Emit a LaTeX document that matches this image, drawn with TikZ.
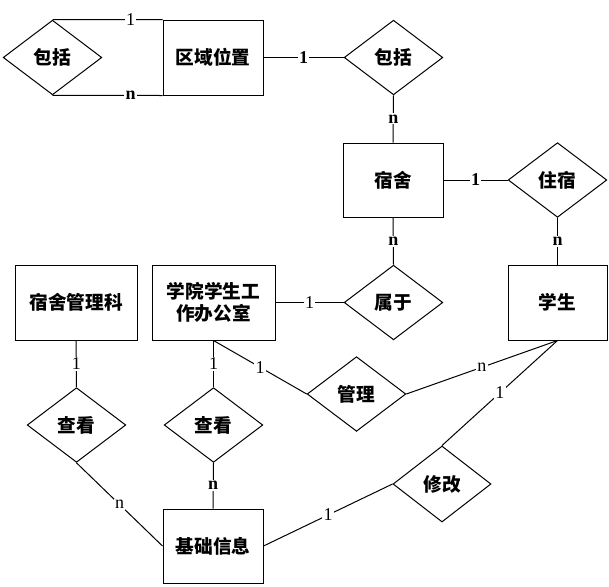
\documentclass[tikz,border=0pt]{standalone}
\usepackage{fontspec}
\setmainfont{Liberation Serif}
\newfontfamily\cjk{Noto Sans CJK SC}
\usetikzlibrary{shapes.geometric}
\begin{document}
\begin{tikzpicture}[x=0.75pt,y=-0.75pt,
  every path/.style={line width=0.75pt},
  ent/.style={draw, rectangle, inner sep=0pt, font=\cjk\bfseries\fontsize{14}{17}\selectfont, align=center},
  rel/.style={draw, diamond, inner sep=0pt, minimum width=74pt, minimum height=56pt, font=\cjk\bfseries\fontsize{14}{17}\selectfont},
  lbl/.style={fill=white, inner sep=1pt, font=\fontsize{13.5}{14}\selectfont},
  blbl/.style={fill=white, inner sep=1pt, font=\bfseries\fontsize{13.5}{14}\selectfont}]
\useasboundingbox (0,0) rectangle (609,586);
% entities
\node[ent, minimum width=75pt, minimum height=56.25pt] (qy) at (213,57.5) {区域位置};
\node[ent, minimum width=75pt, minimum height=55.5pt] (ss) at (393,180) {宿舍};
\node[ent, minimum width=74.25pt, minimum height=56.25pt] (xs) at (557.5,302.5) {学生};
\node[ent, minimum width=91.5pt, minimum height=56.25pt] (glk) at (76,302.5) {宿舍管理科};
\node[ent, minimum width=92.25pt, minimum height=56.25pt] (xy) at (213.5,302.5) {学院学生工\\作办公室};
\node[ent, minimum width=75pt, minimum height=55.5pt] (jc) at (213,546) {基础信息};
% relations
\node[rel] (bk1) at (52.5,57.5) {包括};
\node[rel] (bk2) at (393.5,57.5) {包括};
\node[rel] (zs) at (557.5,180) {住宿};
\node[rel] (sy) at (393.5,302.5) {属于};
\node[rel] (gl) at (356.5,394) {管理};
\node[rel] (ck1) at (76.5,425) {查看};
\node[rel] (ck2) at (213.5,425) {查看};
\node[rel, minimum width=73.5pt, minimum height=57pt] (xg) at (442,484) {修改};
% connectors
\draw (bk1.north) -- node[lbl, pos=0.71] {1} (qy.north west);
\draw (bk1.south) -- node[blbl, pos=0.71] {n} (qy.south west);
\draw (qy.east) -- node[blbl] {1} (bk2.west);
\draw (bk2.south) -- node[blbl] {n} (ss.north);
\draw (ss.east) -- node[blbl] {1} (zs.west);
\draw (zs.south) -- node[blbl] {n} (xs.north);
\draw (ss.south) -- node[blbl] {n} (sy.north);
\draw (xy.east) -- node[lbl] {1} (sy.west);
\draw (glk.south) -- node[lbl] {1} (ck1.north);
\draw (xy.south) -- node[lbl] {1} (ck2.north);
\draw (xy.south) -- node[lbl] {1} (gl.west);
\draw (gl.east) -- node[lbl] {n} (xs.south);
\draw (xs.south) -- node[lbl] {1} (xg.north);
\draw (ck1.south) -- node[lbl] {n} (jc.west);
\draw (ck2.south) -- node[blbl] {n} (jc.north);
\draw (jc.east) -- node[lbl] {1} (xg.west);
\end{tikzpicture}
\end{document}
